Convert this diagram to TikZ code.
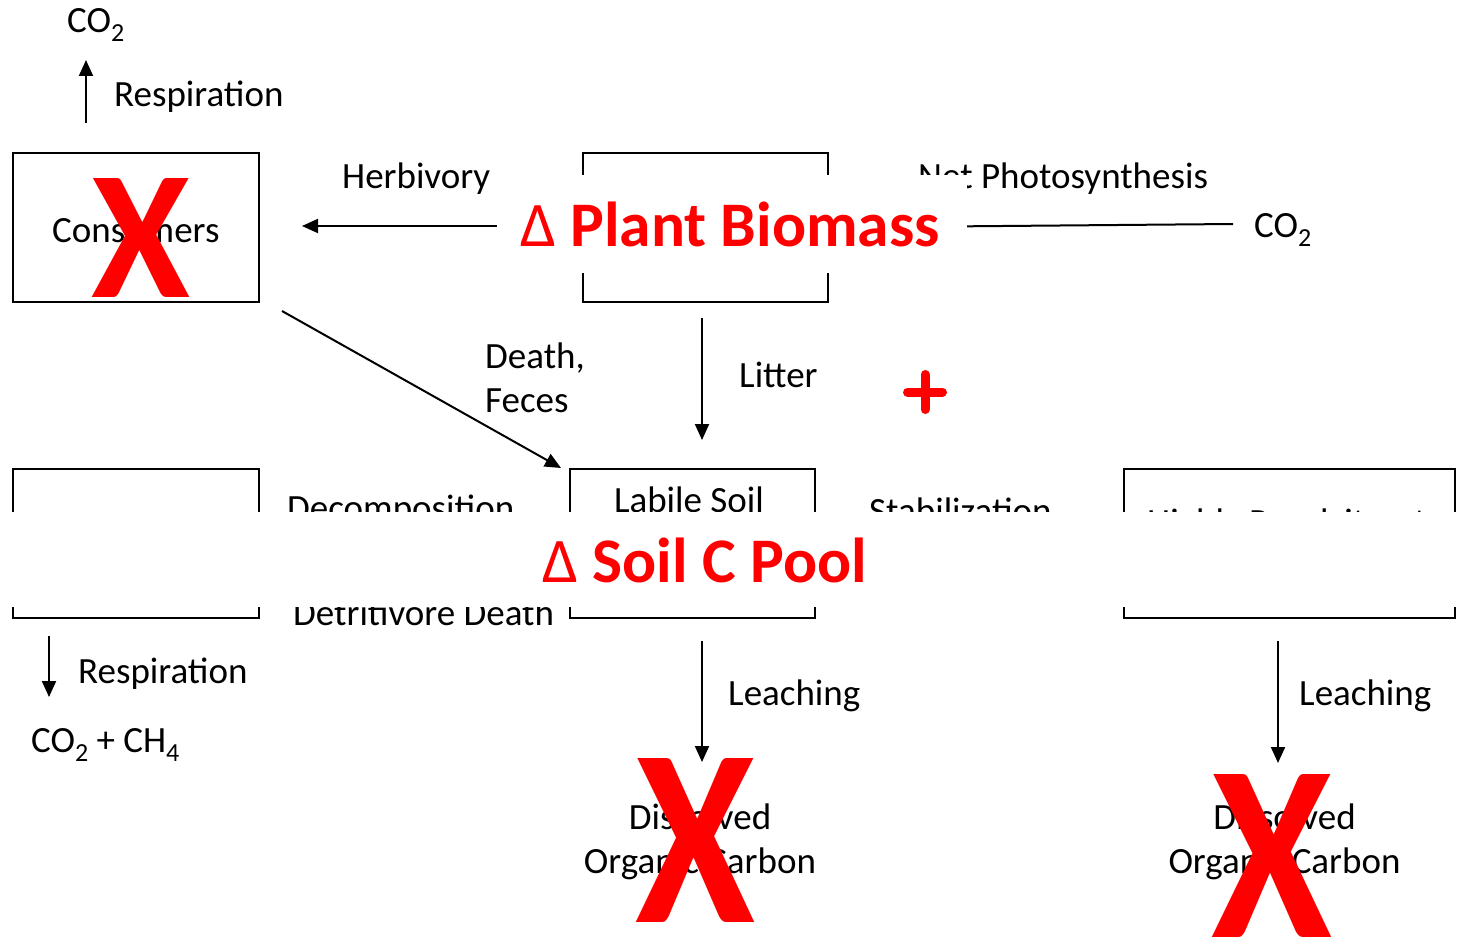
\documentclass[tikz,border=0pt]{standalone}
\usepackage{fontspec}
\setmainfont{Carlito}
\usepackage{graphicx}
\usetikzlibrary{arrows.meta}
\newcommand\subx[1]{\raisebox{-9pt}{\fontsize{26}{26}\selectfont #1}}
\newcommand\dlt{{\mdseries Δ}}
\definecolor{xred}{RGB}{255,0,0}
\tikzset{
  box/.style={draw=black, line width=2pt, minimum width=#1, minimum height=149pt, inner sep=0pt},
  txt/.style={inner sep=0pt, anchor=base west, font=\fontsize{37}{44}\selectfont},
  ctxt/.style={inner sep=0pt, anchor=base, align=center, font=\fontsize{37}{44}\selectfont},
  arr/.style={line width=2pt, -{Triangle[width=14pt,length=16pt]}},
  biglabel/.style={inner sep=0pt, text=xred, font=\fontsize{63.5}{70}\selectfont\bfseries},
  whiteband/.style={fill=white, draw=none, inner sep=0pt},
  redx/.style={inner sep=0pt, text=xred, font=\bfseries},
}
\begin{document}
\begin{tikzpicture}[x=1pt,y=-1pt]
\useasboundingbox (0,0) rectangle (1458,939);
% boxes
\node[box=246pt] (cons) at (136,227) {};
\node[box=245pt] (plantbox) at (705.5,227.5) {};
\node[box=246pt] (det) at (136,543.5) {};
\node[box=245pt] (labile) at (692.5,543.5) {};
\node[box=331pt] (recal) at (1289.5,543.5) {};
% texts
\node[txt] (co2top) at (67,33) {CO\subx{2}};
\node[txt] (resp1) at (114,107) {Respiration};
\node[txt] (consl) at (52,242) {Consumers};
\node[txt] (herb) at (342,188) {Herbivory};
\node[txt] (netp) at (918,188) {Net Photosynthesis};
\node[txt] (co2r) at (1254,237) {CO\subx{2}};
\node[txt] (litter) at (739,387) {Litter};
\node[txt, align=left] (death) at (485,412) {Death,\\Feces};
\node[txt] (decomp) at (287,520) {Decomposition};
\node[ctxt] (labl) at (689,512) {Labile Soil};
\node[txt] (stab) at (869,523) {Stabilization};
\node[txt] (recl) at (1147,534) {Highly Recalcitrant};
\node[txt] (detd) at (293,625) {Detritivore Death};
\node[txt] (resp2) at (78,683) {Respiration};
\node[txt] (co2ch4) at (31,752) {CO\subx{2} + CH\subx{4}};
\node[txt] (leach1) at (728,705) {Leaching};
\node[txt] (leach2) at (1299,705) {Leaching};
\node[ctxt] (doc1) at (700,873) {Dissolved\\Organic Carbon};
\node[ctxt] (doc2) at (1284.5,873) {Dissolved\\Organic Carbon};
% arrow end points
\coordinate (r1a) at (86,123);
\coordinate (r1b) at (86,60);
\coordinate (lita) at (702,318);
\coordinate (litb) at (702,440);
\coordinate (dfa) at (282,311);
\coordinate (dfb) at (561,468);
\coordinate (r2a) at (49,636);
\coordinate (r2b) at (49,697);
\coordinate (l1a) at (702,641);
\coordinate (l1b) at (702,762);
\coordinate (l2a) at (1278,641);
\coordinate (l2b) at (1278,763);
\coordinate (npa) at (1233,224);
\coordinate (hba) at (583,226);
\coordinate (hbb) at (302,226);
% connectors
\draw[arr] (r1a) -- (r1b);
\draw[arr] (hba) -- (hbb);
\draw[arr] (npa) -- (plantbox.east);
\draw[arr] (lita) -- (litb);
\draw[arr] (dfa) -- (dfb);
\draw[arr] (r2a) -- (r2b);
\draw[arr] (l1a) -- (l1b);
\draw[arr] (l2a) -- (l2b);
% overlay labels
\node[whiteband, minimum width=470pt, minimum height=98pt] (plantband) at (732,224) {};
\node[biglabel] (plant) at (730,224) {\dlt\ Plant Biomass};
\node[whiteband, minimum width=1458pt, minimum height=95pt] (soilband) at (729,559.5) {};
\node[biglabel] (soil) at (704.5,560) {\dlt\ Soil C Pool};
% red marks
\draw[xred, line width=9pt, line cap=round] (907.5,392) -- (942.5,392) (925,374.5) -- (925,409.5);
\node[redx] (x1) at (140.5,237.5) {\resizebox{99pt}{119pt}{X}};
\node[redx] (x2) at (695,840) {\resizebox{120pt}{164pt}{X}};
\node[redx] (x3) at (1271.5,855.5) {\resizebox{121pt}{163pt}{X}};
\end{tikzpicture}
\end{document}
